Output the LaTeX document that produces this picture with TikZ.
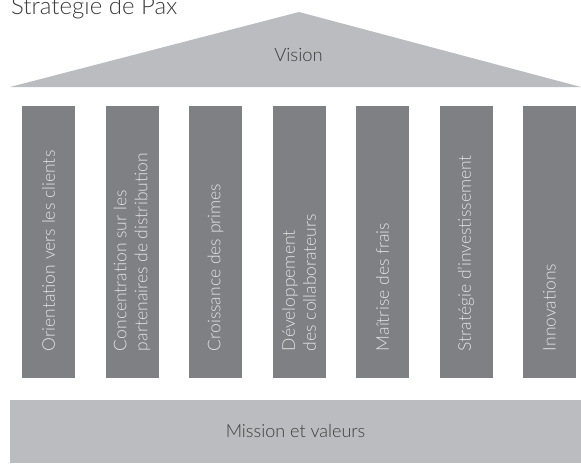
\documentclass[tikz,border=0pt]{standalone}
\usepackage{fontspec}
\setmainfont{Lato}[UprightFont=* Light]
\usepackage{tikz}
\usetikzlibrary{positioning}
\definecolor{roofgray}{HTML}{BBBCBF}
\definecolor{pillargray}{HTML}{7F8084}
\definecolor{pillartext}{HTML}{E4E4E6}
\definecolor{darktext}{HTML}{3C3C3C}

\begin{document}
\begin{tikzpicture}[x=1pt, y=-1pt,
    pillar/.style={rectangle, fill=pillargray, minimum width=53pt, minimum height=272pt, inner sep=0pt},
    piltext/.style={rotate=90, anchor=west, align=left, text=pillartext, inner sep=0pt,
                    font=\fontsize{17.5}{21}\selectfont},
    slab/.style={rectangle, fill=roofgray, minimum width=571pt, minimum height=63pt, inner sep=0pt,
                 text=darktext, font=\fontsize{18}{21}\selectfont}
  ]
    \useasboundingbox (0,0) rectangle (581,464);

    \node[anchor=base west, inner sep=0pt, text=darktext, font=\fontsize{24}{28}\selectfont]
      (title) at (11,14) {Stratégie de Pax};

    % roof
    \fill[roofgray] (10,87) -- (299,12) -- (581,87) -- cycle;
    \node[text=darktext, font=\fontsize{18.4}{21}\selectfont] (vision) at (298.5,55) {Vision};

    % pillars
    \node[pillar] (pil1) at (48.5,242)  {};
    \node[pillar] (pil2) at (132,242)   {};
    \node[pillar] (pil3) at (215.5,242) {};
    \node[pillar] (pil4) at (299,242)   {};
    \node[pillar] (pil5) at (382.5,242) {};
    \node[pillar] (pil6) at (466,242)   {};
    \node[pillar] (pil7) at (549.5,242) {};

    \node[piltext] (txt1) at ([yshift=27pt]pil1.south) {Orientation vers les clients};
    \node[piltext] (txt2) at ([yshift=27pt]pil2.south) {Concentration sur les\\partenaires de distribution};
    \node[piltext] (txt3) at ([yshift=27pt]pil3.south) {Croissance des primes};
    \node[piltext] (txt4) at ([yshift=27pt]pil4.south) {Développement\\des collaborateurs};
    \node[piltext] (txt5) at ([yshift=27pt]pil5.south) {Maîtrise des frais};
    \node[piltext] (txt6) at ([yshift=27pt]pil6.south) {Stratégie d’investissement};
    \node[piltext] (txt7) at ([yshift=27pt]pil7.south) {Innovations};

    % foundation
    \node[slab] (mission) at (295.5,431.5) {Mission et valeurs};
\end{tikzpicture}
\end{document}
